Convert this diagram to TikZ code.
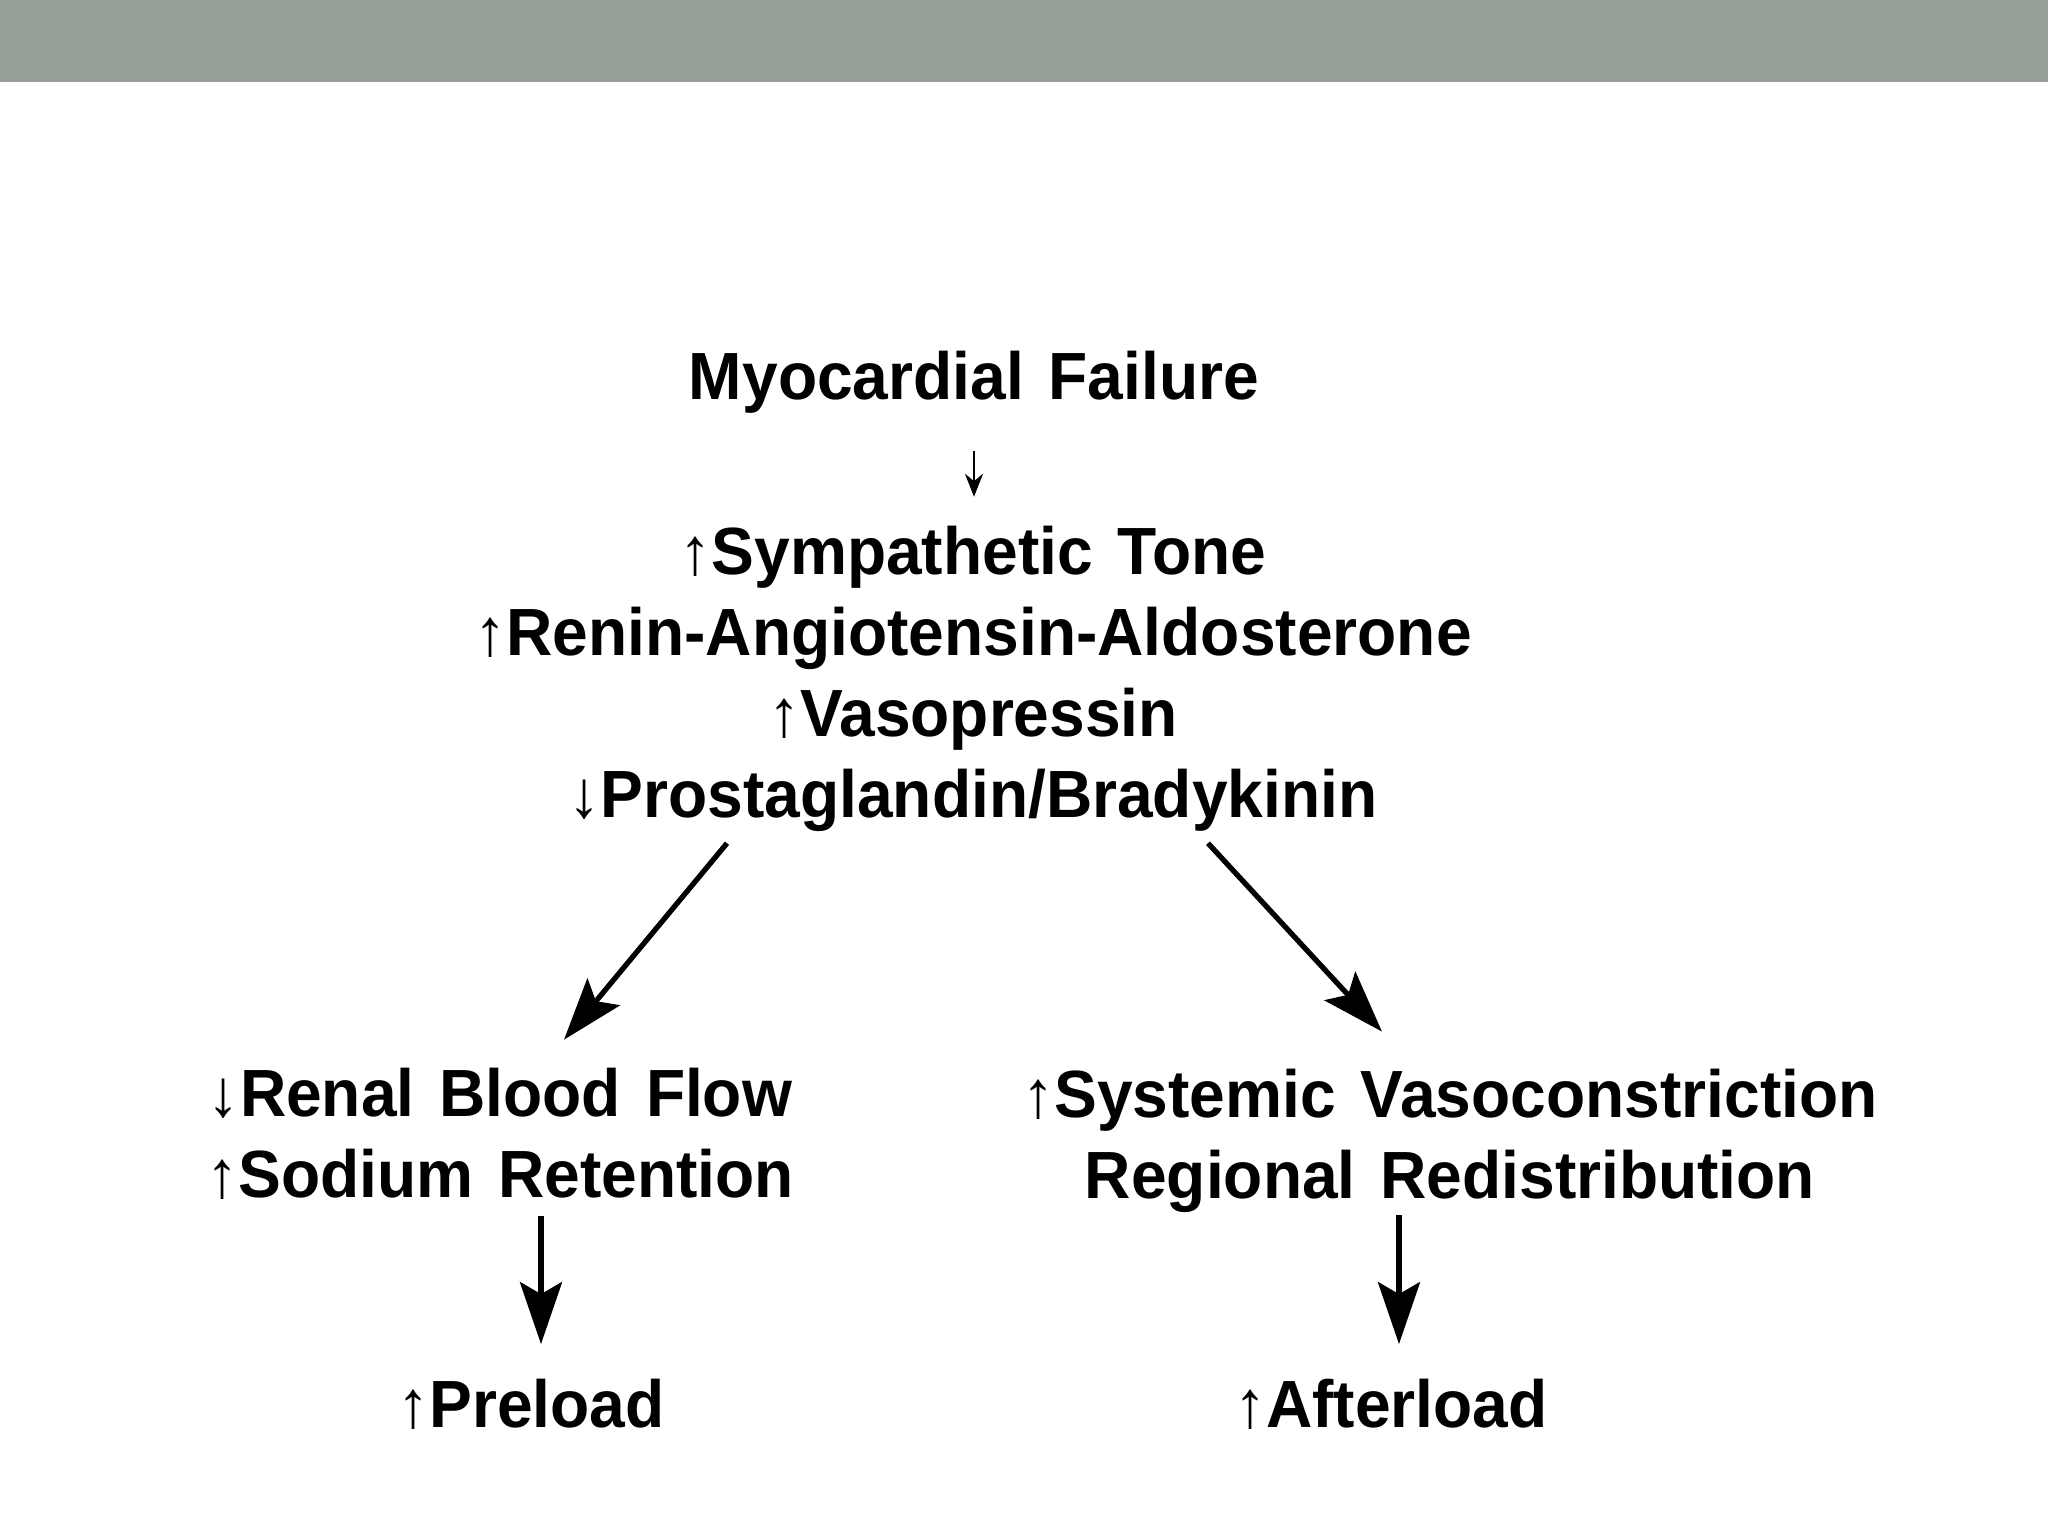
\documentclass[tikz,border=0pt]{standalone}
\usepackage{fontspec}
\setmainfont{Liberation Sans}[WordSpace=1.4, FakeStretch=0.96]
\usepackage{tikz}
\usetikzlibrary{arrows.meta,positioning}
\definecolor{barGrey}{HTML}{94A098}
\tikzset{
    textblock/.style = {font=\bfseries\fontsize{19}{23}\selectfont, inner sep=0pt, align=center},
    bigarrow/.style = {-{Stealth[length=6.2mm, width=4.2mm, inset=1.2mm]}, line width=1.5pt},
    smallarrow/.style = {-{Stealth[length=2.3mm, width=1.8mm]}, line width=0.8pt}
}

\begin{document}
\begin{tikzpicture}
    \useasboundingbox (0,0) rectangle (20.48,-15.36);
    \fill[white] (0,0) rectangle (20.48,-15.36);
    \fill[barGrey] (0,0) rectangle (20.48,-0.82);

    \node [textblock] (failure) at (9.74,-3.82) {Myocardial Failure};
    \node [textblock] (mech) at (9.73,-6.79) {↑Sympathetic Tone\\ ↑Renin-Angiotensin-Aldosterone\\ ↑Vasopressin\\ ↓Prostaglandin/Bradykinin};
    \node [textblock] (renal) at (5.00,-11.34) {↓Renal Blood Flow\\ ↑Sodium Retention};
    \node [textblock] (systemic) at (14.50,-11.41) {↑Systemic Vasoconstriction\\ Regional Redistribution};
    \node [textblock] (preload) at (5.31,-14.04) {↑Preload};
    \node [textblock] (afterload) at (13.91,-14.04) {↑Afterload};

    \draw [smallarrow, shorten <=3.7mm, shorten >=2.9mm] (failure.south) -- (failure.south |- mech.north);
    \draw [bigarrow] ([xshift=-2.46cm, yshift=-1.1mm]mech.south) -- ([xshift=0.64cm, yshift=2.8mm]renal.north);
    \draw [bigarrow] ([xshift=2.35cm, yshift=-1.1mm]mech.south) -- ([xshift=-0.68cm, yshift=3.7mm]systemic.north);
    \draw [bigarrow, shorten <=1.6mm, shorten >=3.4mm] ([xshift=1mm]preload.north |- renal.south) -- ([xshift=1mm]preload.north);
    \draw [bigarrow, shorten <=0.2mm, shorten >=3.4mm] ([xshift=0.8mm]afterload.north |- systemic.south) -- ([xshift=0.8mm]afterload.north);
\end{tikzpicture}
\end{document}
